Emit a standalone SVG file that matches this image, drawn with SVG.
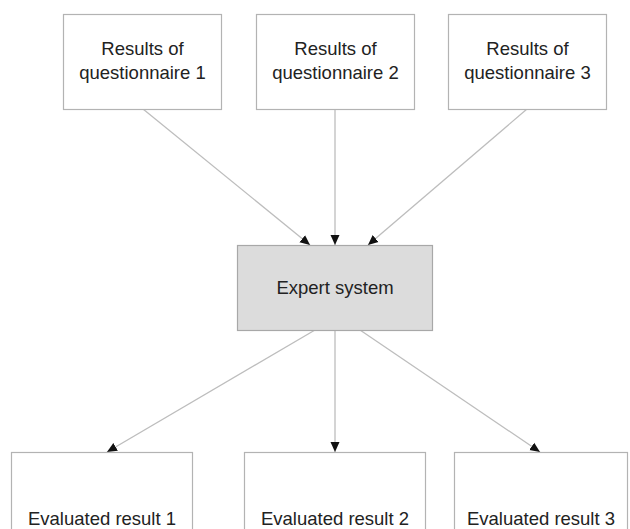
<svg xmlns="http://www.w3.org/2000/svg" width="630" height="529" viewBox="0 0 630 529">
<style>
.box{fill:#fff;stroke:#b3b3b3;stroke-width:1.2}
.core{fill:#dcdcdc;stroke:#a8a8a8;stroke-width:1.2}
.lbl{font-family:"Liberation Sans",Arial,sans-serif;font-size:18.5px;fill:#222;text-anchor:middle}
.edge{stroke:#bdbdbd;stroke-width:1.3;fill:none;marker-end:url(#ah)}
</style>
<defs>
<marker id="ah" markerUnits="userSpaceOnUse" markerWidth="10" markerHeight="10" refX="10" refY="5" orient="auto" viewBox="0 0 10 10">
<path d="M0,0.5 L10,5 L0,9.5 z" fill="#111"/>
</marker>
</defs>
<rect width="630" height="529" fill="#fff"/>
<g id="connectors">
<line class="edge" x1="143" y1="109" x2="310" y2="245"/>
<line class="edge" x1="335" y1="109" x2="335" y2="245"/>
<line class="edge" x1="527" y1="109" x2="368" y2="245"/>
<line class="edge" x1="315" y1="330" x2="107" y2="452"/>
<line class="edge" x1="335" y1="330" x2="335" y2="452"/>
<line class="edge" x1="360" y1="330" x2="540" y2="452"/>
</g>
<g id="q1"><rect class="box" x="63.5" y="14.5" width="158" height="95"/><text class="lbl" x="142.5" y="55">Results of</text><text class="lbl" x="142.5" y="79">questionnaire 1</text></g>
<g id="q2"><rect class="box" x="256.5" y="14.5" width="158" height="95"/><text class="lbl" x="335.5" y="55">Results of</text><text class="lbl" x="335.5" y="79">questionnaire 2</text></g>
<g id="q3"><rect class="box" x="448.5" y="14.5" width="158" height="95"/><text class="lbl" x="527.5" y="55">Results of</text><text class="lbl" x="527.5" y="79">questionnaire 3</text></g>
<g id="expert"><rect class="core" x="237.5" y="245.5" width="195" height="85"/><text class="lbl" x="335" y="294">Expert system</text></g>
<g id="r1"><rect class="box" x="11.5" y="452.5" width="181" height="90"/><text class="lbl" x="102" y="525">Evaluated result 1</text></g>
<g id="r2"><rect class="box" x="244.5" y="452.5" width="181" height="90"/><text class="lbl" x="335" y="525">Evaluated result 2</text></g>
<g id="r3"><rect class="box" x="454.5" y="452.5" width="173" height="90"/><text class="lbl" x="541" y="525">Evaluated result 3</text></g>
</svg>
